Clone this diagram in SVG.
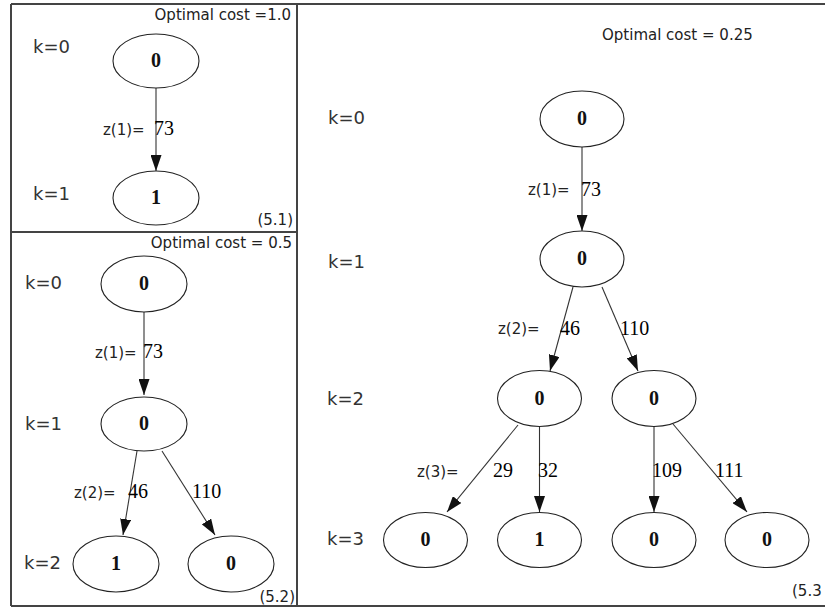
<svg xmlns="http://www.w3.org/2000/svg" width="825" height="609" viewBox="0 0 825 609">
  <style>
    .frame { fill: none; stroke: #444; stroke-width: 2; }
    .node ellipse { fill: #fff; stroke: #222; stroke-width: 1.1; }
    .node text { font-family: "Liberation Serif", "Times New Roman", serif; font-size: 20px; font-weight: bold; fill: #111; text-anchor: middle; }
    .edge { stroke: #333; stroke-width: 1.1; fill: none; marker-end: url(#arrow); }
    .stage { font-family: "DejaVu Sans", Verdana, sans-serif; font-size: 18px; fill: #333; }
    .note { font-family: "DejaVu Sans", Verdana, sans-serif; font-size: 15px; fill: #222; }
    .zlabel { font-family: "DejaVu Sans", Verdana, sans-serif; font-size: 15px; fill: #222; }
    .weight { font-family: "Liberation Serif", "Times New Roman", serif; font-size: 20px; fill: #000; }
  </style>
  <defs>
    <marker id="arrow" markerUnits="userSpaceOnUse" markerWidth="16" markerHeight="11" refX="16" refY="5.5" orient="auto">
      <path d="M0,0 L16,5.5 L0,11 Z" fill="#111"/>
    </marker>
  </defs>

  <rect width="825" height="609" fill="#fff"/>

  <!-- panel frames -->
  <g id="frames">
    <path class="frame" d="M11,4 H825 M11,4 V606 M11,606 H825 M297,4 V606 M11,232 H297"/>
  </g>

  <!-- panel (5.1) -->
  <g id="panel-5-1">
    <text class="note" x="291" y="20" text-anchor="end">Optimal cost =1.0</text>
    <text class="stage" x="33" y="53">k=0</text>
    <text class="stage" x="33" y="200">k=1</text>
    <text class="note" x="293" y="225" text-anchor="end">(5.1)</text>
    <g id="connectors-5-1">
      <line class="edge" x1="156" y1="88" x2="156" y2="171"/>
    </g>
    <text class="zlabel" x="103" y="135">z(1)=</text>
    <text class="weight" x="154" y="135">73</text>
    <g id="a1" class="node"><ellipse cx="156" cy="61" rx="43" ry="27"/><text x="156" y="67">0</text></g>
    <g id="a2" class="node"><ellipse cx="156" cy="198" rx="43" ry="27"/><text x="156" y="204">1</text></g>
  </g>

  <!-- panel (5.2) -->
  <g id="panel-5-2">
    <text class="note" x="292" y="248" text-anchor="end">Optimal cost = 0.5</text>
    <text class="stage" x="25" y="289">k=0</text>
    <text class="stage" x="25" y="430">k=1</text>
    <text class="stage" x="24" y="569">k=2</text>
    <text class="note" x="295" y="602" text-anchor="end">(5.2)</text>
    <g id="connectors-5-2">
      <line class="edge" x1="144" y1="312" x2="144" y2="395"/>
      <line class="edge" x1="137" y1="451" x2="123" y2="535"/>
      <line class="edge" x1="162" y1="451" x2="215" y2="535"/>
    </g>
    <text class="zlabel" x="95" y="358">z(1)=</text>
    <text class="weight" x="143" y="358">73</text>
    <text class="zlabel" x="74" y="498">z(2)=</text>
    <text class="weight" x="128" y="498">46</text>
    <text class="weight" x="192" y="498">110</text>
    <g id="b1" class="node"><ellipse cx="144" cy="284" rx="43" ry="28"/><text x="144" y="290">0</text></g>
    <g id="b2" class="node"><ellipse cx="144" cy="424" rx="43" ry="27"/><text x="144" y="430">0</text></g>
    <g id="b3" class="node"><ellipse cx="116" cy="564" rx="43" ry="28"/><text x="116" y="570">1</text></g>
    <g id="b4" class="node"><ellipse cx="231" cy="564" rx="43" ry="28"/><text x="231" y="570">0</text></g>
  </g>

  <!-- panel (5.3) -->
  <g id="panel-5-3">
    <text class="note" x="602" y="40">Optimal cost = 0.25</text>
    <text class="stage" x="328" y="124">k=0</text>
    <text class="stage" x="328" y="268">k=1</text>
    <text class="stage" x="327" y="405">k=2</text>
    <text class="stage" x="327" y="545">k=3</text>
    <text class="note" x="792" y="596">(5.3</text>
    <g id="connectors-5-3">
      <line class="edge" x1="582" y1="147" x2="582" y2="231"/>
      <line class="edge" x1="573" y1="287" x2="550" y2="371"/>
      <line class="edge" x1="602" y1="287" x2="638" y2="371"/>
      <line class="edge" x1="518" y1="425" x2="447" y2="512"/>
      <line class="edge" x1="539.5" y1="426.5" x2="539.5" y2="512"/>
      <line class="edge" x1="654" y1="426.5" x2="654" y2="512"/>
      <line class="edge" x1="673" y1="424" x2="747" y2="512"/>
    </g>
    <text class="zlabel" x="528" y="195">z(1)=</text>
    <text class="weight" x="581" y="196">73</text>
    <text class="zlabel" x="498" y="334">z(2)=</text>
    <text class="weight" x="560" y="335">46</text>
    <text class="weight" x="620" y="335">110</text>
    <text class="zlabel" x="417" y="477">z(3)=</text>
    <text class="weight" x="493" y="477">29</text>
    <text class="weight" x="538" y="477">32</text>
    <text class="weight" x="652" y="477">109</text>
    <text class="weight" x="715" y="477">111</text>
    <g id="c1" class="node"><ellipse cx="582" cy="119" rx="42" ry="28"/><text x="582" y="125">0</text></g>
    <g id="c2" class="node"><ellipse cx="582" cy="259" rx="42" ry="28"/><text x="582" y="265">0</text></g>
    <g id="c3" class="node"><ellipse cx="539.5" cy="398.5" rx="42" ry="28"/><text x="539.5" y="404.5">0</text></g>
    <g id="c4" class="node"><ellipse cx="654" cy="398.5" rx="42" ry="28"/><text x="654" y="404.5">0</text></g>
    <g id="d1" class="node"><ellipse cx="425.5" cy="540" rx="42" ry="27.5"/><text x="425.5" y="546">0</text></g>
    <g id="d2" class="node"><ellipse cx="539.5" cy="540" rx="42" ry="27.5"/><text x="539.5" y="546">1</text></g>
    <g id="d3" class="node"><ellipse cx="654" cy="540" rx="42" ry="27.5"/><text x="654" y="546">0</text></g>
    <g id="d4" class="node"><ellipse cx="767" cy="540" rx="42" ry="27.5"/><text x="767" y="546">0</text></g>
  </g>
</svg>
